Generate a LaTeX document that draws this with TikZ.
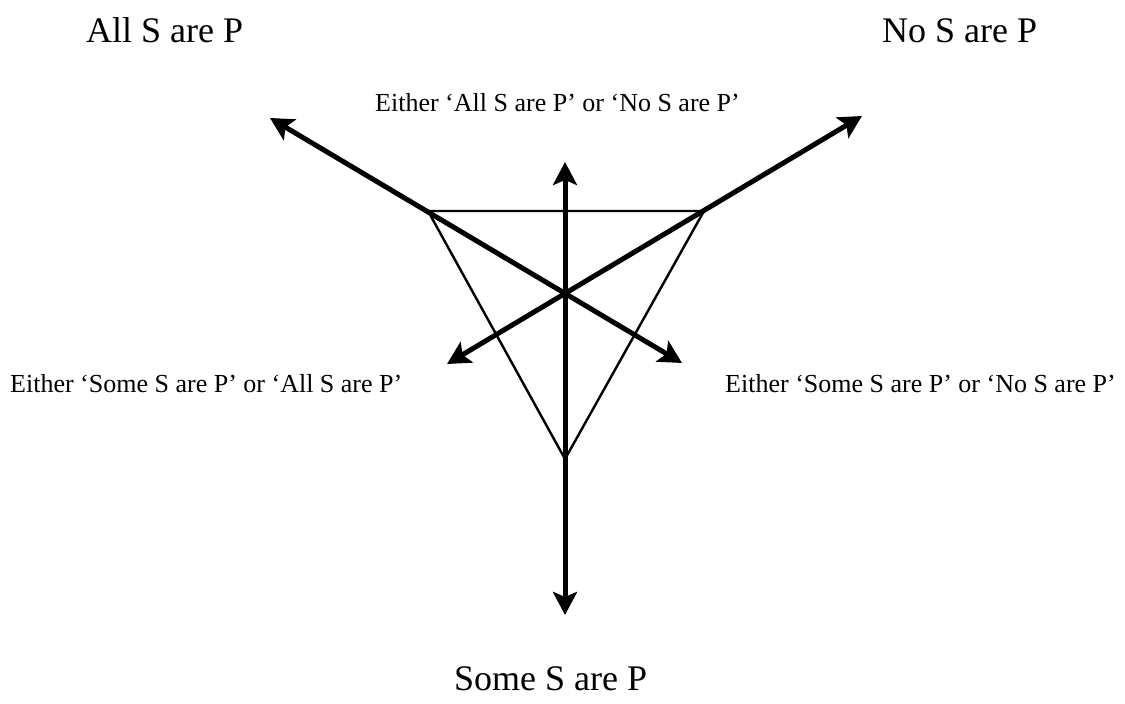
\documentclass[tikz,border=0pt]{standalone}
\usepackage{fontspec}
\setmainfont{Liberation Serif}
\usetikzlibrary{arrows.meta}
\begin{document}
\begin{tikzpicture}[x=1pt,y=-1pt,
  median/.style={line width=5pt,{Stealth[length=23pt,width=24pt,inset=5pt]}-{Stealth[length=23pt,width=24pt,inset=5pt]}},
  edge/.style={line width=2.4pt,line join=miter},
  big/.style={font=\fontsize{36}{40}\selectfont,anchor=base west,inner sep=0pt},
  small/.style={font=\fontsize{26}{30}\selectfont,anchor=base west,inner sep=0pt}]
\useasboundingbox (0,0) rectangle (1125,704);
% triangle vertices
\coordinate (tl) at (428,211);
\coordinate (tr) at (704,211);
\coordinate (bt) at (565,459);
% arrow tips
\coordinate (ul) at (270,118);
\coordinate (lr) at (682,363);
\coordinate (ur) at (862,116);
\coordinate (ll) at (447,364);
\coordinate (up) at (565,162);
\coordinate (dn) at (565,615);
\draw[edge] (tl) -- (tr) -- (bt) -- cycle;
\draw[median] (ul) -- (lr);
\draw[median] (ur) -- (ll);
\draw[median] (up) -- (dn);
% labels
\node[big] (all) at (86,42) {All S are P};
\node[big] (no) at (882,42) {No S are P};
\node[big] (some) at (454,690) {Some S are P};
\node[small] (topl) at (375,111) {Either ‘All S are P’ or ‘No S are P’};
\node[small] (left) at (10,392) {Either ‘Some S are P’ or ‘All S are P’};
\node[small] (right) at (725,392) {Either ‘Some S are P’ or ‘No S are P’};
\end{tikzpicture}
\end{document}
